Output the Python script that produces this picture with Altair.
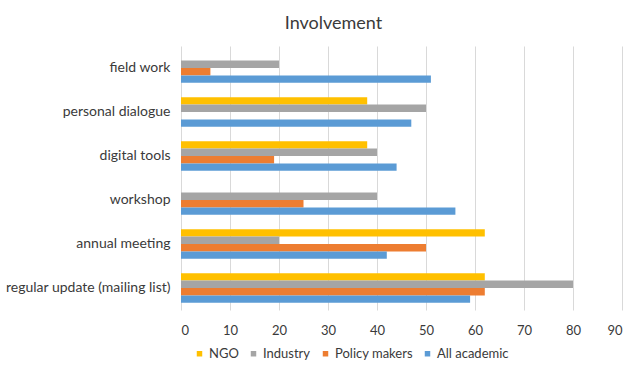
import altair as alt
import pandas as pd

categories = ["field work", "personal dialogue", "digital tools", "workshop",
              "annual meeting", "regular update (mailing list)"]
series = ["NGO", "Industry", "Policy makers", "All academic"]
ngo = [0, 38, 38, 0, 62, 62]
industry = [20, 50, 40, 40, 20, 80]
policy = [6, 0, 19, 25, 50, 62]
academic = [51, 47, 44, 56, 42, 59]
colors = ["#FFC000", "#A5A5A5", "#ED7D31", "#5B9BD5"]
x_ticks = [0, 10, 20, 30, 40, 50, 60, 70, 80, 90]

rows = []
for name, vals in zip(series, [ngo, industry, policy, academic]):
    for c, v in zip(categories, vals):
        rows.append({"category": c, "series": name, "value": v})
df = pd.DataFrame(rows)

FONT = "Lato"
TXT = "#3a3a3a"

chart = alt.Chart(df).mark_bar().encode(
    y=alt.Y("category:N", sort=categories, title=None,
            scale=alt.Scale(paddingInner=0.326, paddingOuter=0.163),
            axis=alt.Axis(domain=False, ticks=False, labelPadding=11,
                          labelFontSize=14, labelColor=TXT, labelFont=FONT)),
    yOffset=alt.YOffset("series:N", sort=series),
    x=alt.X("value:Q", title=None,
            scale=alt.Scale(domain=[0, 90], nice=False),
            axis=alt.Axis(values=x_ticks, domain=False, ticks=False,
                          grid=True, gridColor="#D9D9D9", labelPadding=14,
                          labelFontSize=13, labelColor=TXT, labelFont=FONT)),
    color=alt.Color("series:N", sort=series,
                    scale=alt.Scale(domain=series, range=colors),
                    legend=alt.Legend(title=None, orient="none", direction="horizontal",
                                      legendX=12, legendY=301, symbolType="square",
                                      symbolSize=30, symbolStrokeWidth=0,
                                      labelFontSize=13, labelColor=TXT, labelFont=FONT,
                                      labelOffset=3, columnPadding=8)),
).properties(
    width=441, height=264,
    title=alt.TitleParams("Involvement", fontSize=18, font=FONT, fontWeight="normal",
                          color=TXT, anchor="middle", dx=-68, offset=13),
    autosize=alt.AutoSizeParams(type="none"),
    padding={"left": 181, "top": 46, "right": 11, "bottom": 55},
).configure_view(stroke=None)

chart.save("out.html", embed_options={"renderer": "svg", "actions": False})
